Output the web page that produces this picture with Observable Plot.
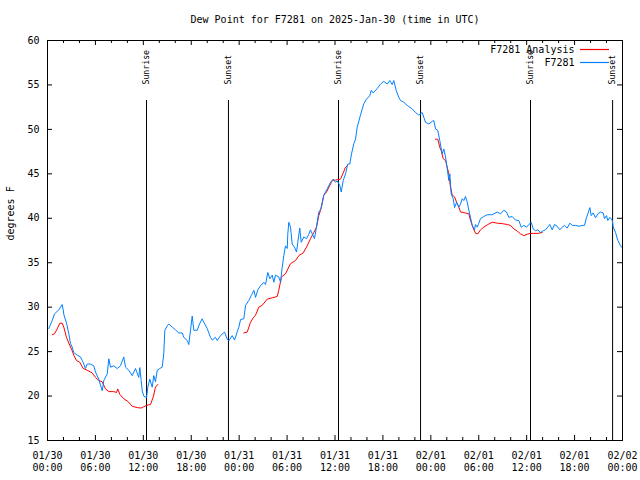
<!DOCTYPE html>
<html>
<head>
<meta charset="utf-8">
<script src="https://cdn.jsdelivr.net/npm/d3@7"></script>
<script src="https://cdn.jsdelivr.net/npm/@observablehq/plot@0.6"></script>
<style>
  html, body { margin: 0; padding: 0; background: #fff; }
  #chart svg { display: block; }
</style>
</head>
<body>
<div id="chart"></div>
<script>
// ---------- text ----------
const chartTitle = "Dew Point for F7281 on 2025-Jan-30 (time in UTC)";
const yAxisLabel = "degrees F";
const analysisName = "F7281 Analysis";
const stationName = "F7281";

// ---------- ticks (x in hours since 01/30 00:00 UTC) ----------
const xTicks = [0, 6, 12, 18, 24, 30, 36, 42, 48, 54, 60, 66, 72];
const xTickDates = ["01/30", "01/30", "01/30", "01/30", "01/31", "01/31", "01/31", "01/31", "02/01", "02/01", "02/01", "02/01", "02/02"];
const xTickTimes = ["00:00", "06:00", "12:00", "18:00", "00:00", "06:00", "12:00", "18:00", "00:00", "06:00", "12:00", "18:00", "00:00"];
const xMinorTicks = [2, 4, 8, 10, 14, 16, 20, 22, 26, 28, 32, 34, 38, 40, 44, 46, 50, 52, 56, 58, 62, 64, 68, 70];
const yTicks = [15, 20, 25, 30, 35, 40, 45, 50, 55, 60];

// ---------- sun events ----------
const sunLabels = ["Sunrise", "Sunset", "Sunrise", "Sunset", "Sunrise", "Sunset"];
const sunHours = [12.40, 22.66, 36.44, 46.71, 60.48, 70.76];
const sunLineTop = 53.25;

// ---------- observed dew point (hour, degF) ----------
const stationSeries = [
  [0.16,27.6],[0.59,28.5],[0.88,29.25],[1.42,29.7],[1.84,30.3],[1.97,29.7],[2.04,29.2],[2.38,28.2],[2.67,27.0],[2.88,25.9],
  [3.09,25.5],[3.29,24.9],[3.72,24.6],[4.13,24.4],[4.35,24.0],[4.55,23.6],[4.76,23.1],[4.97,23.6],[5.38,23.6],[5.80,23.4],
  [6.01,22.7],[6.42,21.9],[6.85,20.6],[7.05,21.75],[7.48,22.5],[7.68,24.2],[7.89,23.25],[8.30,23.4],[8.73,23.1],[9.14,23.4],
  [9.55,24.4],[9.77,23.25],[10.18,22.9],[10.61,22.3],[11.02,23.1],[11.43,22.1],[11.56,23.2],[11.73,21.75],[11.86,20.6],[12.06,20.0],
  [12.40,19.8],[12.56,21.0],[12.81,21.9],[13.11,21.0],[13.31,22.3],[13.52,21.6],[13.74,22.9],[14.06,23.1],[14.36,23.25],[14.56,24.75],
  [14.69,27.4],[14.99,27.9],[15.19,28.1],[15.62,27.75],[16.03,27.45],[16.44,27.1],[16.87,27.1],[17.07,26.6],[17.49,26.25],[17.69,25.8],
  [18.12,29.0],[18.32,27.4],[18.75,27.4],[19.03,28.1],[19.37,28.7],[19.57,28.3],[20.00,27.6],[20.41,26.6],[20.62,26.3],[21.04,26.6],
  [21.25,26.25],[21.66,26.8],[22.17,27.2],[22.50,26.4],[22.70,26.2],[23.13,26.8],[23.42,26.3],[23.75,27.2],[23.96,27.75],[24.17,28.6],
  [24.58,28.7],[24.80,30.2],[25.21,30.75],[25.51,31.3],[25.84,31.9],[26.05,31.1],[26.34,31.95],[26.67,32.4],[27.09,32.8],[27.30,32.55],
  [27.59,33.9],[27.84,33.2],[28.14,33.6],[28.34,32.8],[28.55,33.6],[28.96,33.4],[29.18,32.8],[29.39,34.5],[29.59,35.8],[29.80,36.9],
  [30.02,36.6],[30.09,38.25],[30.22,39.55],[30.43,39.0],[30.64,37.1],[30.93,36.75],[31.18,36.2],[31.34,37.3],[31.59,38.9],[31.77,37.3],
  [32.10,37.9],[32.43,37.7],[32.72,38.2],[32.93,38.7],[33.15,38.25],[33.43,37.7],[33.68,39.0],[33.97,40.7],[34.27,41.1],[34.60,42.6],
  [35.02,43.3],[35.44,44.05],[35.78,44.4],[36.06,44.05],[36.28,44.2],[36.60,43.7],[36.78,42.95],[37.03,44.25],[37.32,45.0],[37.60,46.1],
  [37.85,46.1],[38.07,47.25],[38.36,48.4],[38.57,48.9],[38.78,50.25],[39.19,51.6],[39.61,52.9],[39.95,53.4],[40.36,53.8],[40.54,54.4],
  [40.79,54.1],[41.29,54.6],[41.70,55.1],[42.11,55.4],[42.54,55.1],[42.86,55.5],[43.16,55.05],[43.36,55.5],[43.66,54.4],[43.99,53.6],
  [44.20,53.25],[44.62,53.05],[45.04,52.7],[45.67,52.3],[46.08,51.9],[46.50,51.6],[46.92,51.9],[47.33,50.8],[47.75,50.6],[48.17,50.9],
  [48.37,51.0],[48.59,50.05],[48.87,49.9],[49.12,48.75],[49.42,47.25],[49.63,47.8],[49.84,46.9],[50.05,45.6],[50.25,44.25],[50.38,45.0],
  [50.55,42.75],[50.80,42.2],[50.97,41.2],[51.22,41.8],[51.51,41.25],[51.72,41.6],[51.93,42.2],[52.13,42.0],[52.34,42.45],[52.56,41.8],
  [52.76,40.9],[52.97,40.1],[53.18,39.2],[53.47,38.7],[53.59,39.3],[53.81,39.0],[54.01,39.45],[54.22,39.95],[54.63,40.2],[55.06,40.4],
  [55.69,40.4],[56.31,40.7],[56.73,40.5],[57.14,40.9],[57.48,40.7],[57.77,40.1],[58.19,40.2],[58.60,39.8],[59.02,39.75],[59.32,39.0],
  [59.64,39.2],[59.98,39.0],[60.27,39.3],[60.57,39.55],[60.82,38.8],[61.11,38.6],[61.40,38.7],[61.73,38.4],[62.07,38.6],[62.36,38.7],
  [62.65,39.0],[62.90,39.3],[63.20,38.7],[63.49,39.3],[63.82,39.1],[64.15,38.7],[64.45,39.0],[64.74,39.2],[65.08,38.9],[65.41,39.45],
  [65.71,39.2],[66.12,39.2],[66.53,39.1],[66.96,39.2],[67.25,39.2],[67.50,40.1],[67.66,40.5],[67.91,41.2],[68.08,40.3],[68.33,40.6],
  [68.62,40.05],[68.91,40.5],[69.25,40.7],[69.58,40.6],[69.75,39.95],[70.00,40.3],[70.16,39.75],[70.41,40.1],[70.71,39.8],[70.84,39.0],
  [71.13,38.4],[71.42,37.5],[71.76,36.9],[71.95,36.7]
];

// ---------- analysis dew point, three separate segments ----------
const analysisSegment1 = [
  [0.59,26.9],[0.88,27.0],[1.21,27.55],[1.54,28.2],[1.84,28.2],[2.04,27.75],[2.38,26.6],[2.67,25.95],[3.09,25.1],[3.29,24.6],
  [3.63,24.0],[4.04,23.8],[4.47,23.1],[4.97,22.9],[5.60,22.6],[6.01,22.1],[6.42,21.75],[6.85,21.6],[7.26,20.8],[7.68,20.5],
  [8.30,20.5],[8.64,20.4],[8.80,20.8],[9.05,20.2],[9.55,19.7],[10.06,19.4],[10.61,18.85],[11.23,18.7],[11.73,18.65],[12.06,18.8],
  [12.40,18.95],[12.90,19.05],[13.24,19.9],[13.52,21.0],[13.81,21.3]
];
const analysisSegment2 = [
  [24.58,27.1],[25.01,27.2],[25.42,28.3],[25.76,28.8],[26.05,29.1],[26.46,30.0],[26.88,30.2],[27.51,30.9],[28.14,31.05],[28.76,31.2],
  [28.96,31.9],[29.30,33.4],[29.80,33.75],[30.43,34.9],[31.06,35.25],[31.47,35.8],[32.02,36.1],[32.52,36.9],[32.93,37.7],[33.35,38.4],
  [33.68,39.0],[33.97,40.3],[34.19,40.9],[34.60,42.6],[34.94,42.95],[35.35,43.7],[35.65,44.25],[36.06,44.3],[36.69,44.4],[37.03,45.1],
  [37.32,45.75],[37.53,45.9]
];
const analysisSegment3 = [
  [48.59,48.9],[48.87,48.9],[49.12,48.0],[49.30,47.6],[49.55,46.7],[49.84,46.5],[50.05,45.75],[50.25,45.0],[50.46,43.5],[50.68,42.6],
  [50.97,42.4],[51.22,41.8],[51.51,41.25],[51.72,40.7],[52.34,40.6],[52.76,40.5],[52.97,39.75],[53.31,38.9],[53.59,38.3],[53.88,38.25],
  [54.22,38.7],[54.63,39.0],[55.14,39.3],[55.69,39.55],[56.31,39.45],[56.94,39.4],[57.57,39.3],[57.98,39.2],[58.40,38.8],[58.82,38.55],
  [59.23,38.25],[59.64,38.05],[60.07,38.2],[60.48,38.3],[60.89,38.3],[61.40,38.3],[61.95,38.4]
];

// ---------- colours ----------
const analysisColor = "#ff0000";
const stationColor = "#0080ff";

// ---------- build tables ----------
const station = stationSeries.map(([h, v]) => ({h, v}));
const analysis = [analysisSegment1, analysisSegment2, analysisSegment3]
  .flatMap((seg, s) => seg.map(([h, v]) => ({h, v, seg: s})));
const sun = sunHours.map((h, i) => ({h, label: sunLabels[i]}));

const W = 640, H = 480, mL = 47, mR = 18, mT = 40, mB = 40;
const yPerPx = (60 - 15) / (H - mT - mB);
const xPerPx = 72 / (W - mL - mR);
const tickMajor = 5, tickMinor = 3;

const plot = Plot.plot({
  width: W, height: H,
  marginLeft: mL, marginRight: mR, marginTop: mT, marginBottom: mB,
  style: {fontFamily: "'DejaVu Sans Mono', monospace", fontSize: "10px", background: "#fff", color: "#000", overflow: "visible"},
  x: {domain: [0, 72]},
  y: {domain: [15, 60]},
  marks: [
    // sunrise / sunset lines
    Plot.ruleX(sun, {x: "h", y1: 15, y2: sunLineTop, stroke: "#000", strokeWidth: 1}),
    Plot.text(sun, {x: "h", y: sunLineTop, text: "label", rotate: -90, textAnchor: "start", lineAnchor: "middle", dy: -16, fontSize: 8.2, fill: "#000"}),
    // series
    Plot.line(analysis, {x: "h", y: "v", z: "seg", stroke: analysisColor, strokeWidth: 1, curve: "linear"}),
    Plot.line(station, {x: "h", y: "v", stroke: stationColor, strokeWidth: 1, curve: "linear"}),
    // inward ticks (bottom/top major and minor, left/right major)
    Plot.ruleX(xTicks, {x: d => d, y1: 15, y2: 15 + tickMajor * yPerPx, stroke: "#000"}),
    Plot.ruleX(xTicks, {x: d => d, y1: 60, y2: 60 - tickMajor * yPerPx, stroke: "#000"}),
    Plot.ruleX(xMinorTicks, {x: d => d, y1: 15, y2: 15 + tickMinor * yPerPx, stroke: "#000"}),
    Plot.ruleX(xMinorTicks, {x: d => d, y1: 60, y2: 60 - tickMinor * yPerPx, stroke: "#000"}),
    Plot.ruleY(yTicks, {y: d => d, x1: 0, x2: tickMajor * xPerPx, stroke: "#000"}),
    Plot.ruleY(yTicks, {y: d => d, x1: 72, x2: 72 - tickMajor * xPerPx, stroke: "#000"}),
    Plot.frame({stroke: "#000"}),
    // axes labels
    Plot.axisY(yTicks, {tickSize: 0, tickPadding: 8, label: null, fontSize: 10}),
    Plot.axisX(xTicks, {tickSize: 0, tickPadding: 11, label: null, tickFormat: d => xTickDates[xTicks.indexOf(d)]}),
    Plot.axisX(xTicks, {tickSize: 0, tickPadding: 23, label: null, tickFormat: d => xTickTimes[xTicks.indexOf(d)]}),
    // title and y label
    Plot.text([chartTitle], {frameAnchor: "top", lineAnchor: "middle", dy: -21, fontSize: 10, fill: "#000"}),
    Plot.text([yAxisLabel], {frameAnchor: "left", lineAnchor: "middle", rotate: -90, dx: -37, fontSize: 10, fill: "#000"}),
    // legend text
    Plot.text([analysisName], {frameAnchor: "top-right", textAnchor: "end", lineAnchor: "middle", dx: -48, dy: 9.5, fontSize: 10, fill: "#000"}),
    Plot.text([stationName], {frameAnchor: "top-right", textAnchor: "end", lineAnchor: "middle", dx: -48, dy: 22, fontSize: 10, fill: "#000"})
  ]
});

// legend swatches
const svg = d3.select(plot);
const right = W - mR;
[[analysisColor, mT + 9.5], [stationColor, mT + 22.5]].forEach(([c, y]) => {
  svg.append("line")
    .attr("x1", right - 42).attr("x2", right - 13)
    .attr("y1", y).attr("y2", y)
    .attr("stroke", c).attr("stroke-width", 1.2);
});

document.getElementById("chart").appendChild(plot);
</script>
</body>
</html>
